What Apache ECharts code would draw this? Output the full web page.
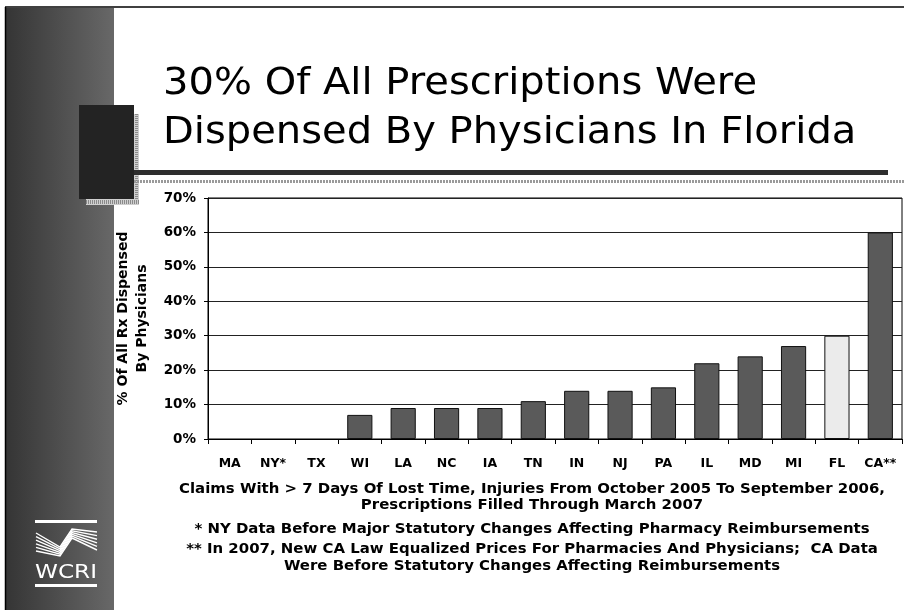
<!DOCTYPE html>
<html><head><meta charset="utf-8">
<script src="https://cdn.jsdelivr.net/npm/echarts/dist/echarts.min.js"></script>
<style>html,body{margin:0;padding:0;background:#fff}#c{width:904px;height:610px}</style>
</head><body><div id="c"></div>
<script>
// ---- data ----
const categories = ['MA','NY*','TX','WI','LA','NC','IA','TN','IN','NJ','PA','IL','MD','MI','FL','CA**'];
const values = [0,0,0,7,9,9,9,11,14,14,15,22,24,27,30,60];
const highlightCategory = 'FL';
const yMin = 0, yMax = 70, yStep = 10;
const titleLines = ['30% Of All Prescriptions Were','Dispensed By Physicians In Florida'];
const yAxisTitle = ['% Of All Rx Dispensed','By Physicians'];
const notes = [
  'Claims With > 7 Days Of Lost Time, Injuries From October 2005 To September 2006,',
  'Prescriptions Filled Through March 2007',
  '* NY Data Before Major Statutory Changes Affecting Pharmacy Reimbursements',
  '** In 2007, New CA Law Equalized Prices For Pharmacies And Physicians;  CA Data',
  'Were Before Statutory Changes Affecting Reimbursements'
];
const logoText = 'WCRI';

// ---- helpers ----
const mctx = document.createElement('canvas').getContext('2d');
function textW(text, font){ mctx.font = font; return mctx.measureText(text).width; }

const chart = echarts.init(document.getElementById('c'), null, {renderer:'canvas'});

const titleFont = 'normal 38px "DejaVu Sans"';
const titleScale = 594 / textW(titleLines[0], titleFont);
const noteFont = 'bold 14px "DejaVu Sans"';
const noteScale = 706 / textW(notes[0], noteFont);
const logoFont = 'normal 19px "DejaVu Sans"';
const logoScale = 62 / textW(logoText, logoFont);

const noteY = [489, 505, 529, 549, 566];
const titleY = [84, 133];

const graphics = [];
// frame
graphics.push({type:'rect', shape:{x:6,y:8,width:108,height:602}, style:{fill:new echarts.graphic.LinearGradient(0,0,1,0,[{offset:0,color:'#353535'},{offset:1,color:'#686868'}])}, z:1});
graphics.push({type:'line', shape:{x1:5,y1:7,x2:904,y2:7}, style:{stroke:'#000',lineWidth:1.5}, z:2});
graphics.push({type:'line', shape:{x1:5.5,y1:7,x2:5.5,y2:610}, style:{stroke:'#000',lineWidth:1.5}, z:2});
// dotted strips
graphics.push({type:'rect', shape:{x:134,y:114,width:5,height:91}, style:{fill:'#cfcfcf'}, z:2});
graphics.push({type:'line', shape:{x1:136.5,y1:114,x2:136.5,y2:205}, style:{stroke:'#8a8a8a',lineWidth:3,lineDash:[1,1]}, z:2});
graphics.push({type:'rect', shape:{x:86,y:199,width:53,height:6}, style:{fill:'#cfcfcf'}, z:2});
graphics.push({type:'line', shape:{x1:86,y1:202,x2:139,y2:202}, style:{stroke:'#8a8a8a',lineWidth:4,lineDash:[1,1]}, z:2});
// dark block
graphics.push({type:'rect', shape:{x:79,y:105,width:55,height:94}, style:{fill:'#232323'}, z:3});
// rules under title
graphics.push({type:'rect', shape:{x:134,y:170,width:754,height:5}, style:{fill:'#2e2e2e'}, z:2});
graphics.push({type:'line', shape:{x1:134,y1:181.5,x2:904,y2:181.5}, style:{stroke:'#9a9a9a',lineWidth:3,lineDash:[2,1]}, z:2});
// title
titleLines.forEach((t,i)=>graphics.push({type:'text', x:163, y:titleY[i], scaleX:titleScale, style:{text:t, font:titleFont, fill:'#000', textAlign:'left', textVerticalAlign:'middle'}, z:4}));
// notes
notes.forEach((t,i)=>graphics.push({type:'text', x:532, y:noteY[i], scaleX:noteScale, style:{text:t, font:noteFont, fill:'#000', textAlign:'center', textVerticalAlign:'middle'}, z:4}));
// logo
graphics.push({type:'rect', shape:{x:35,y:520,width:62,height:3}, style:{fill:'#fff'}, z:4});
graphics.push({type:'rect', shape:{x:35,y:584,width:62,height:3}, style:{fill:'#fff'}, z:4});
graphics.push({type:'text', x:35, y:573, scaleX:logoScale, style:{text:logoText, font:logoFont, fill:'#fff', textAlign:'left', textVerticalAlign:'middle'}, z:4});
for (let i=0;i<6;i++){
  graphics.push({type:'polyline', shape:{points:[[36,533+3.6*i],[60,547+1.8*i],[72,529+1.8*i],[97,532+3.6*i]]}, style:{stroke:'#fff',lineWidth:1.4,fill:null}, z:4});
}

const option = {
  animation:false,
  backgroundColor:'#fff',
  grid:{left:208, top:198, right:2, bottom:171, show:true, borderColor:'#000', borderWidth:1},
  xAxis:{
    type:'category', data:categories,
    axisLine:{show:true, lineStyle:{color:'#000', width:1}},
    axisTick:{show:true, length:5, interval:0, alignWithLabel:false, lineStyle:{color:'#000'}},
    axisLabel:{interval:0, margin:18, color:'#000', fontWeight:'bold', fontSize:12.5, fontFamily:'DejaVu Sans'},
    splitLine:{show:false}
  },
  yAxis:{
    type:'value', min:yMin, max:yMax, interval:yStep,
    axisLine:{show:true, lineStyle:{color:'#000', width:1}},
    axisTick:{show:true, length:4, lineStyle:{color:'#000'}},
    axisLabel:{formatter:v=>v+'%', margin:12, color:'#000', fontWeight:'bold', fontSize:13.5, fontFamily:'DejaVu Sans'},
    splitLine:{show:true, lineStyle:{color:'#222', width:1}},
    name: yAxisTitle.join('\n'), nameLocation:'middle', nameRotate:90, nameGap:56,
    nameTextStyle:{color:'#000', fontWeight:'bold', fontSize:14, fontFamily:'DejaVu Sans', lineHeight:19, align:'center'}
  },
  series:[{
    type:'bar', barWidth:'58%',
    data: values.map((v,i)=>({value:v, itemStyle:{color: categories[i]===highlightCategory ? '#ebebeb' : '#5a5a5a', borderWidth: v===0 ? 0 : 1}})),
    itemStyle:{borderColor:'#111', borderWidth:1},
    z:3
  }],
  graphic: graphics
};
chart.setOption(option);
</script></body></html>
